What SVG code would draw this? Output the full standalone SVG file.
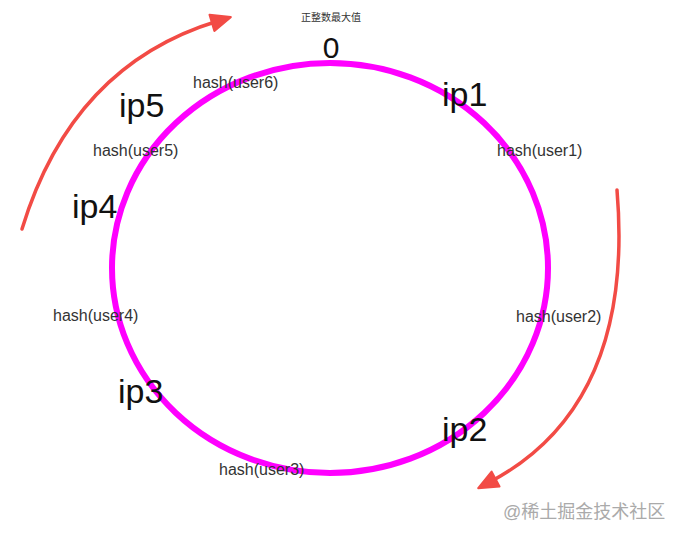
<svg xmlns="http://www.w3.org/2000/svg" width="680" height="539" viewBox="0 0 680 539">
<style>
.big{font-family:"Liberation Sans","Noto Sans",sans-serif;font-size:34px;fill:#111;font-weight:300}
.hash{font-family:"Liberation Sans","Noto Sans",sans-serif;font-size:16px;fill:#333}
.cjk{font-family:"Liberation Sans","Noto Sans CJK SC",sans-serif;fill:#333}
.arrow{fill:none;stroke:#f24b45;stroke-width:3.5;stroke-linecap:round}
</style>
<defs>
<marker id="ah" viewBox="0 0 10 10" refX="3" refY="5" markerWidth="7" markerHeight="7" markerUnits="userSpaceOnUse" orient="auto" overflow="visible">
<path d="M-6,-7 L22,5 L-6,17 Z" fill="#f24b45" stroke="#f24b45" stroke-width="3" stroke-linejoin="round"/>
</marker>
</defs>
<rect width="680" height="539" fill="#fff"/>
<g id="ring">
<ellipse cx="330" cy="268" rx="218" ry="205" fill="none" stroke="#ff00ff" stroke-width="6"/>
</g>
<g id="connectors">
<path class="arrow" d="M22,229 Q72,65 218,21" marker-end="url(#ah)"/>
<path class="arrow" d="M617,190 Q635,405 490,482" marker-end="url(#ah)"/>
</g>
<g id="top-label">
<text class="cjk" x="331" y="21" font-size="10" text-anchor="middle">正整数最大值</text>
<text class="big" x="331" y="58" text-anchor="middle" style="font-size:30px">0</text>
</g>
<g id="ip1"><text class="big" x="442" y="106">ip1</text></g>
<g id="ip2"><text class="big" x="442" y="441">ip2</text></g>
<g id="ip3"><text class="big" x="118" y="403">ip3</text></g>
<g id="ip4"><text class="big" x="72" y="218">ip4</text></g>
<g id="ip5"><text class="big" x="119" y="117">ip5</text></g>
<g id="user1"><text class="hash" x="497" y="156">hash(user1)</text></g>
<g id="user2"><text class="hash" x="516" y="322">hash(user2)</text></g>
<g id="user3"><text class="hash" x="219" y="475">hash(user3)</text></g>
<g id="user4"><text class="hash" x="53" y="321">hash(user4)</text></g>
<g id="user5"><text class="hash" x="93" y="156">hash(user5)</text></g>
<g id="user6"><text class="hash" x="193" y="88">hash(user6)</text></g>
<text class="cjk" x="503" y="518" font-size="18" style="fill:#aaa">@稀土掘金技术社区</text>
</svg>
